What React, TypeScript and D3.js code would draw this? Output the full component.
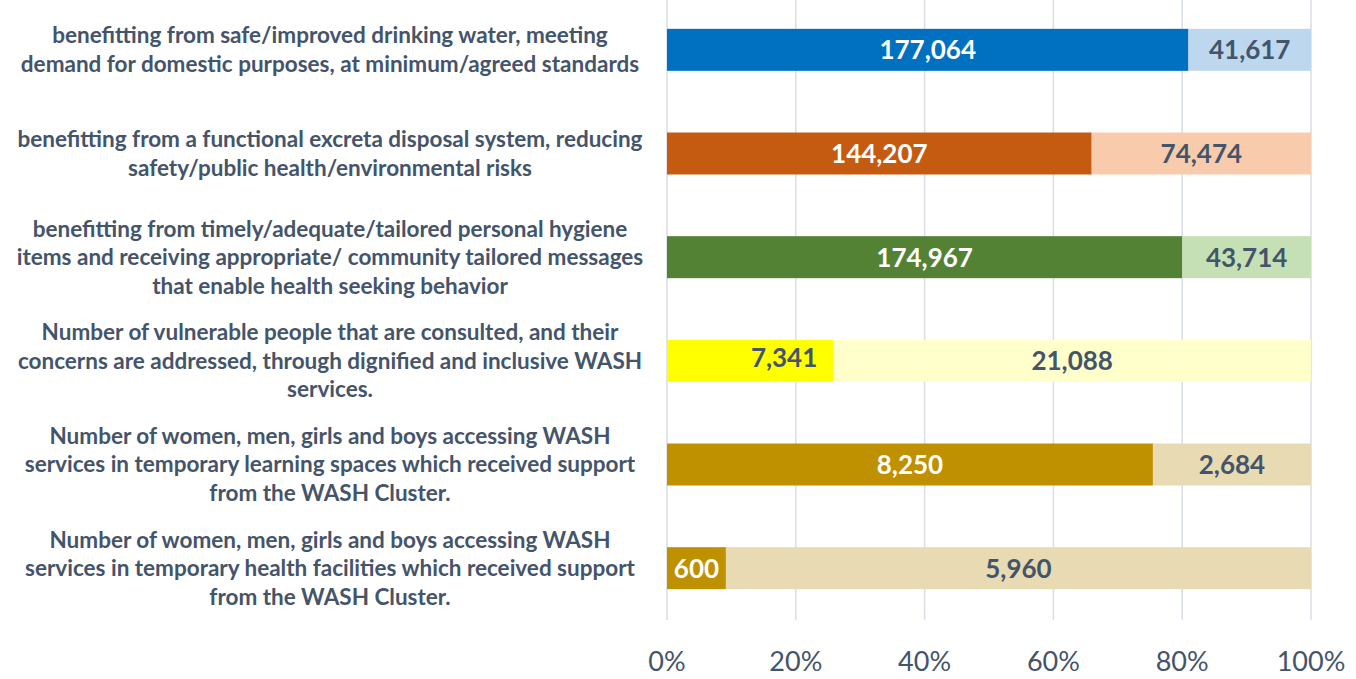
import React from 'react';
import * as d3 from 'd3';

// chart data
const categories = [
  'benefitting from safe/improved drinking water, meeting\ndemand for domestic purposes, at minimum/agreed standards',
  'benefitting from a functional excreta disposal system, reducing\nsafety/public health/environmental risks',
  'benefitting from timely/adequate/tailored personal hygiene\nitems and receiving appropriate/ community tailored messages\nthat enable health seeking behavior',
  'Number of vulnerable people that are consulted, and their\nconcerns are addressed, through dignified and inclusive WASH\nservices.',
  'Number of women, men, girls and boys accessing WASH\nservices in temporary learning spaces which received support\nfrom the WASH Cluster.',
  'Number of women, men, girls and boys accessing WASH\nservices in temporary health facilities which received support\nfrom the WASH Cluster.',
];
const reached = [177064, 144207, 174967, 7341, 8250, 600];
const remaining = [41617, 74474, 43714, 21088, 2684, 5960];
const tickValues = [0, 0.2, 0.4, 0.6, 0.8, 1];

const darkColors = ['#0070C0', '#C55A11', '#548235', '#FFFF00', '#BF9000', '#BF9000'];
const lightColors = ['#BDD7EE', '#F8CBAD', '#C5E0B4', '#FFFFCC', '#E8DAB3', '#E8DAB3'];

const W = 1356;
const H = 679;
const textColor = '#44546A';
const font = 'Lato, "Open Sans", sans-serif';

export default function App() {
  const x = d3.scaleLinear().domain([0, 1]).range([667, 1311]);
  const y = d3
    .scaleBand<number>()
    .domain(d3.range(categories.length))
    .range([-2, 620])
    .paddingInner(0.595)
    .paddingOuter(0.2975);
  const fmt = d3.format(',');
  const bh = y.bandwidth();

  return (
    <svg width={W} height={H} style={{ position: 'absolute', left: 0, top: 0, background: '#fff' }}>
      {/* gridlines */}
      {tickValues.map((t) => (
        <line key={t} x1={x(t)} x2={x(t)} y1={0} y2={620} stroke="#D9DEE6" strokeWidth={1.5} />
      ))}

      {categories.map((c, i) => {
        const total = reached[i] + remaining[i];
        const p = reached[i] / total;
        const y0 = y(i)!;
        const cy = y0 + bh / 2;
        const lines = c.split('\n');
        const lh = 28.5;
        // the small yellow label sits toward the end of its segment
        const shifted = i === 3;
        return (
          <g key={i}>
            <rect x={x(0)} y={y0} width={x(p) - x(0)} height={bh} fill={darkColors[i]} />
            <rect x={x(p)} y={y0} width={x(1) - x(p)} height={bh} fill={lightColors[i]} />
            <text
              x={shifted ? x(p) - 16 : (x(0) + x(p)) / 2}
              y={shifted ? cy - 3 : cy}
              dy="0.36em"
              textAnchor={shifted ? 'end' : 'middle'}
              fill={darkColors[i] === '#FFFF00' ? textColor : '#fff'}
              fontFamily={font}
              fontWeight={700}
              fontSize={26}
            >
              {fmt(reached[i])}
            </text>
            <text
              x={(x(p) + x(1)) / 2}
              y={cy}
              dy="0.36em"
              textAnchor="middle"
              fill={textColor}
              fontFamily={font}
              fontWeight={700}
              fontSize={26}
            >
              {fmt(remaining[i])}
            </text>
            {lines.map((l, j) => (
              <text
                key={j}
                x={330}
                y={cy + (j - (lines.length - 1) / 2) * lh}
                dy="0.35em"
                textAnchor="middle"
                fill={textColor}
                fontFamily={font}
                fontWeight={700}
                fontSize={22.5}
              >
                {l}
              </text>
            ))}
          </g>
        );
      })}

      {/* x axis labels */}
      {tickValues.map((t) => (
        <text
          key={t}
          x={x(t)}
          y={671}
          textAnchor="middle"
          fill={textColor}
          fontFamily={font}
          fontSize={27}
        >
          {d3.format('.0%')(t)}
        </text>
      ))}
    </svg>
  );
}
